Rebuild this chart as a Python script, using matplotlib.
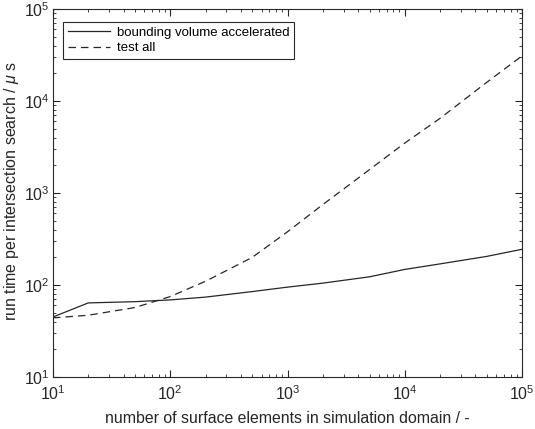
import matplotlib
matplotlib.use("Agg")
import matplotlib.pyplot as plt
from matplotlib.ticker import LogLocator, NullFormatter

plt.rcParams['font.family'] = ['Liberation Sans', 'DejaVu Sans']
plt.rcParams['mathtext.fontset'] = 'custom'
plt.rcParams['mathtext.it'] = 'Liberation Sans:italic'
plt.rcParams['mathtext.rm'] = 'Liberation Sans'

n_elements = [10, 20, 50, 100, 200, 500, 1000, 2000, 5000, 10000, 20000, 50000, 100000]
bvh_time = [45, 64, 66, 69, 74, 85, 95, 105, 123, 148, 170, 205, 245]
test_all_time = [44, 47, 57, 75, 110, 200, 380, 750, 1800, 3500, 6500, 16000, 31000]

fig = plt.figure(figsize=(5.35, 4.29), dpi=100)
ax = fig.add_axes([0.099, 0.121, 0.877, 0.858])

ax.plot(n_elements, bvh_time, color='#262626', lw=0.9, ls='-', label='bounding volume accelerated')
ax.plot(n_elements, test_all_time, color='#262626', lw=0.9, ls=(0, (6, 4)), label='test all')

ax.set_xscale('log')
ax.set_yscale('log')
ax.set_xlim(10, 1e5)
ax.set_ylim(10, 1e5)

for s in ax.spines.values():
    s.set_color('#262626')
    s.set_linewidth(0.8)
ax.tick_params(which='both', direction='in', top=True, right=True, colors='#262626', labelsize=11.5)
ax.tick_params(axis='x', which='major', pad=5)
ax.tick_params(axis='y', which='major', pad=2.5)
ax.tick_params(which='major', length=5)
ax.tick_params(which='minor', length=2.5)
ax.xaxis.set_minor_locator(LogLocator(base=10, subs=range(2, 10), numticks=20))
ax.yaxis.set_minor_locator(LogLocator(base=10, subs=range(2, 10), numticks=20))
ax.xaxis.set_minor_formatter(NullFormatter())
ax.yaxis.set_minor_formatter(NullFormatter())

ax.set_xlabel('number of surface elements in simulation domain / -', fontsize=11.4, color='#262626', labelpad=6)
ax.set_ylabel(r'run time per intersection search / $\mu$ s', fontsize=11.5, color='#262626')
ax.yaxis.set_label_coords(-0.068, 0.505)

leg = ax.legend(loc='upper left', bbox_to_anchor=(10/469, 1 - 13/369), borderaxespad=0,
                fontsize=9.5, frameon=True, fancybox=False,
                edgecolor='#262626', framealpha=1, handlelength=3.2, handletextpad=0.55,
                borderpad=0.35, labelspacing=0.25)
leg.get_frame().set_linewidth(0.8)

fig.savefig('out.png', dpi=100)
